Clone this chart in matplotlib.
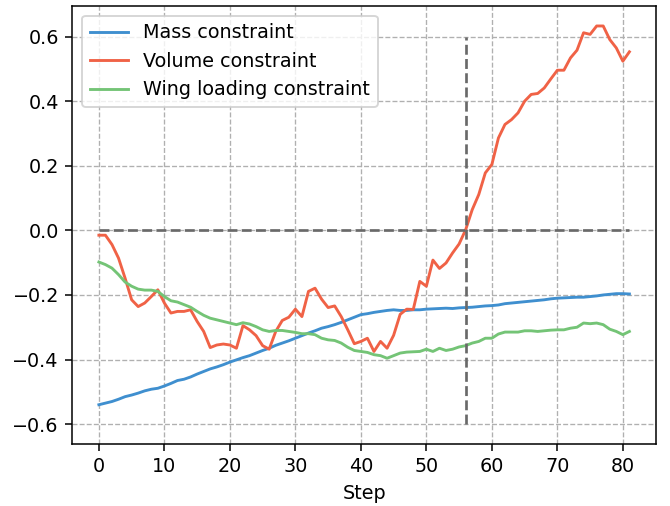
import matplotlib.pyplot as plt

steps = list(range(82))

mass = [-0.540, -0.535, -0.530, -0.523, -0.515, -0.510, -0.504, -0.497, -0.492, -0.489,
        -0.482, -0.474, -0.465, -0.461, -0.454, -0.445, -0.437, -0.429, -0.423, -0.416,
        -0.408, -0.401, -0.394, -0.388, -0.380, -0.372, -0.365, -0.356, -0.349, -0.342,
        -0.334, -0.326, -0.318, -0.311, -0.303, -0.298, -0.292, -0.285, -0.277, -0.269,
        -0.261, -0.258, -0.254, -0.251, -0.248, -0.246, -0.248, -0.248, -0.246, -0.246,
        -0.244, -0.243, -0.242, -0.241, -0.242, -0.240, -0.239, -0.238, -0.236, -0.234,
        -0.233, -0.231, -0.227, -0.225, -0.223, -0.221, -0.219, -0.217, -0.215, -0.212,
        -0.210, -0.209, -0.208, -0.207, -0.207, -0.205, -0.203, -0.200, -0.198, -0.196,
        -0.196, -0.197]

volume = [-0.015, -0.015, -0.044, -0.086, -0.148, -0.215, -0.236, -0.225, -0.205, -0.184,
          -0.225, -0.256, -0.251, -0.251, -0.246, -0.282, -0.313, -0.363, -0.355, -0.352,
          -0.355, -0.365, -0.295, -0.308, -0.326, -0.357, -0.368, -0.313, -0.279, -0.269,
          -0.244, -0.267, -0.189, -0.179, -0.213, -0.239, -0.234, -0.267, -0.308, -0.351,
          -0.344, -0.334, -0.375, -0.344, -0.365, -0.325, -0.260, -0.244, -0.245, -0.158,
          -0.173, -0.092, -0.118, -0.101, -0.070, -0.042, 0.002, 0.064, 0.111, 0.178,
          0.204, 0.286, 0.328, 0.343, 0.364, 0.400, 0.421, 0.424, 0.441, 0.469,
          0.496, 0.496, 0.534, 0.558, 0.612, 0.607, 0.633, 0.633, 0.591, 0.565,
          0.524, 0.553]

wing_loading = [-0.098, -0.106, -0.117, -0.137, -0.160, -0.173, -0.182, -0.185, -0.185, -0.189,
                -0.205, -0.218, -0.222, -0.230, -0.238, -0.251, -0.263, -0.272, -0.277, -0.282,
                -0.287, -0.292, -0.286, -0.290, -0.298, -0.308, -0.313, -0.310, -0.310, -0.313,
                -0.316, -0.320, -0.320, -0.323, -0.334, -0.339, -0.341, -0.349, -0.362, -0.372,
                -0.375, -0.378, -0.385, -0.388, -0.396, -0.388, -0.380, -0.377, -0.376, -0.375,
                -0.368, -0.375, -0.365, -0.372, -0.368, -0.361, -0.357, -0.349, -0.344, -0.334,
                -0.334, -0.321, -0.315, -0.315, -0.315, -0.311, -0.311, -0.313, -0.311, -0.309,
                -0.308, -0.308, -0.303, -0.300, -0.287, -0.289, -0.287, -0.292, -0.306, -0.313,
                -0.323, -0.313]

switch_step = 56

dpi = 138
fig, ax = plt.subplots(figsize=(670 / dpi, 506 / dpi), dpi=dpi)
fig.subplots_adjust(left=0.108, right=0.979, bottom=0.1225, top=0.988)

ax.plot(steps, mass, color='#3f8fcf', lw=1.5, label='Mass constraint')
ax.plot(steps, volume, color='#f06246', lw=1.5, label='Volume constraint')
ax.plot(steps, wing_loading, color='#74c476', lw=1.5, label='Wing loading constraint')

# reference lines: feasibility boundary and switch step
ax.hlines(0, 0, steps[-1], colors='dimgray', linestyles='--', lw=1.4)
ax.vlines(switch_step, -0.6, 0.6, colors='dimgray', linestyles='--', lw=1.4)

ax.set_xlabel('Step')
ax.set_xticks(range(0, 81, 10))
ax.grid(True, linestyle='--', color='#b0b0b0', lw=0.7)
ax.legend(loc='upper left')

fig.savefig('out.png', dpi=dpi)
